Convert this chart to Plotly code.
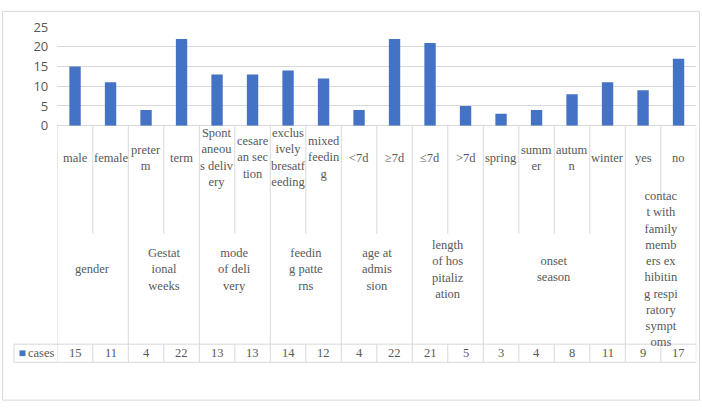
import plotly.graph_objects as go

# ---------------- data ----------------
categories = ["male", "female", "preter\nm", "term", "Spont\naneou\ns deliv\nery",
              "cesare\nan sec\ntion", "exclus\nively\nbresatf\needing", "mixed\nfeedin\ng",
              "<7d", "≥7d", "≤7d", ">7d", "spring", "summ\ner", "autum\nn", "winter",
              "yes", "no"]
cases = [15, 11, 4, 22, 13, 13, 14, 12, 4, 22, 21, 5, 3, 4, 8, 11, 9, 17]
groups = ["gender", "Gestat\nional\nweeks", "mode\nof deli\nvery", "feedin\ng patte\nrns",
          "age at\nadmis\nsion", "length\nof hos\npitaliz\nation", "onset\nseason",
          "contac\nt with\nfamily\nmemb\ners ex\nhibitin\ng respi\nratory\nsympt\noms"]
group_sizes = [2, 2, 2, 2, 2, 2, 4, 2]
series_name = "cases"
y_ticks = [0, 5, 10, 15, 20, 25]

# ---------------- layout helpers ----------------
W, H = 702, 412
def py(p):
    return 1 - p / H

X0, X1 = 57.3, 696.3
Y_ZERO, Y_TOP = 122, 19
SUB_END, TABLE_TOP, TABLE_BOT = 235, 350.5, 369.5
GRID = "#D9D9D9"
TXT = "#595959"
BAR = "#4472C4"
SERIF = "Liberation Serif"
FS = 12.5

n = len(categories)
xs = list(range(n))

fig = go.Figure()
fig.add_trace(go.Bar(x=xs, y=cases, marker=dict(color=BAR, line=dict(width=0)),
                     width=0.32, name=series_name, showlegend=False,
                     hoverinfo="skip"))

shapes = []
annotations = []

# boundaries
group_bounds = set()
acc = 0
for s in group_sizes:
    group_bounds.add(acc)
    acc += s
group_bounds.add(acc)

contact_first = n - group_sizes[-1]
for b in range(n + 1):
    xb = b - 0.5
    if b in group_bounds:
        shapes.append(dict(type="line", xref="x", yref="paper", x0=xb, x1=xb,
                           y0=py(Y_ZERO), y1=py(TABLE_BOT),
                           line=dict(color=GRID, width=1)))
    else:
        end = SUB_END
        if b > contact_first:
            end = 197
        shapes.append(dict(type="line", xref="x", yref="paper", x0=xb, x1=xb,
                           y0=py(Y_ZERO), y1=py(end),
                           line=dict(color=GRID, width=1)))
        shapes.append(dict(type="line", xref="x", yref="paper", x0=xb, x1=xb,
                           y0=py(TABLE_TOP), y1=py(TABLE_BOT),
                           line=dict(color=GRID, width=1)))

# table horizontal lines + legend cell
for yy in (TABLE_TOP, TABLE_BOT):
    shapes.append(dict(type="line", xref="paper", yref="paper", x0=14 / W, x1=X1 / W,
                       y0=py(yy), y1=py(yy), line=dict(color=GRID, width=1)))
shapes.append(dict(type="line", xref="paper", yref="paper", x0=14 / W, x1=14 / W,
                   y0=py(TABLE_TOP), y1=py(TABLE_BOT), line=dict(color=GRID, width=1)))
shapes.append(dict(type="rect", xref="paper", yref="paper", x0=19.5 / W, x1=25.5 / W,
                   y0=py(363), y1=py(357), fillcolor=BAR, line=dict(width=0)))
# outer border
shapes.append(dict(type="rect", xref="paper", yref="paper", x0=2.5 / W, x1=699.5 / W,
                   y0=py(409), y1=py(2.5), line=dict(color=GRID, width=1),
                   fillcolor="rgba(0,0,0,0)"))

def ann(x, y, text, xref="x", xanchor="center"):
    return dict(x=x, y=y, xref=xref, yref="paper", text=text, showarrow=False,
                xanchor=xanchor, yanchor="middle", borderpad=0,
                font=dict(family=SERIF, size=FS, color=TXT))

# category labels and table values
for i, lab in enumerate(categories):
    annotations.append(ann(i, py(155.5), lab.replace("\n", "<br>")))
    annotations.append(ann(i, py(360), str(cases[i])))

# group labels
acc = 0
for g, s in zip(groups, group_sizes):
    center = acc + (s - 1) / 2
    annotations.append(ann(center, py(272), g.replace("\n", "<br>")))
    acc += s

annotations.append(ann(27 / W, py(360), series_name, xref="paper", xanchor="left"))

fig.update_layout(
    width=W, height=H, margin=dict(l=0, r=0, t=0, b=0),
    paper_bgcolor="white", plot_bgcolor="white",
    bargap=0.68, shapes=shapes, annotations=annotations,
    xaxis=dict(domain=[X0 / W, X1 / W], range=[-0.5, n - 0.5], showticklabels=False,
               showgrid=False, zeroline=False, showline=False, ticks=""),
    yaxis=dict(domain=[py(Y_ZERO), py(Y_TOP)], range=[0, 25], tickvals=y_ticks,
               showgrid=True, gridcolor=GRID, gridwidth=1, zeroline=True,
               zerolinecolor=GRID, zerolinewidth=1, showline=False, ticks="",
               ticklabelstandoff=8,
               tickfont=dict(family="Open Sans", size=13, color=TXT)),
)

fig.write_html("out.html")
